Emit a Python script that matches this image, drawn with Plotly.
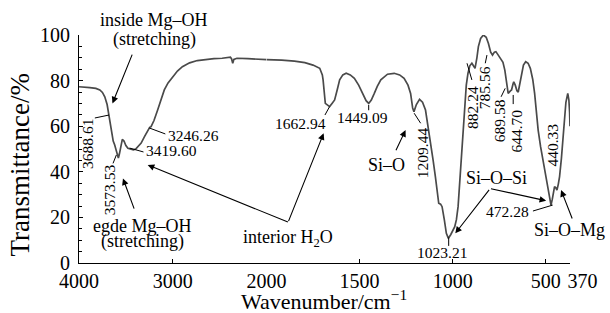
import plotly.graph_objects as go

# ---------------- data ----------------
wavenumber = [4000, 3950, 3884, 3820, 3778, 3750, 3725, 3700, 3690, 3672, 3654, 3635, 3619, 3595,
              3580, 3568, 3555, 3538, 3520, 3500, 3478, 3450, 3420, 3395, 3365, 3337, 3300, 3267,
              3246, 3231, 3200, 3161, 3120, 3090, 3050, 3002, 2950, 2897, 2820, 2738, 2650, 2560,
              2473, 2420, 2385, 2372, 2360, 2348, 2315, 2200, 2121, 2000, 1918, 1850, 1794, 1750,
              1714, 1700, 1696, 1684, 1670, 1661, 1648, 1634, 1620, 1607, 1590, 1572, 1550, 1528,
              1505, 1483, 1465, 1451, 1437, 1421, 1405, 1386, 1350, 1314, 1285, 1261, 1240, 1226,
              1215, 1208, 1195, 1178, 1162, 1146, 1132, 1119, 1105, 1093, 1082, 1075, 1065, 1057,
              1045, 1034, 1023, 1010, 989, 980, 971, 962, 954, 945, 936, 927, 918, 908, 897, 888,
              880, 870, 862, 850, 835, 820, 808, 796, 786, 776, 768, 758, 750, 740, 730, 720, 710,
              702, 690, 684, 676, 672, 664, 655, 648, 641, 631, 620, 608, 595, 583, 570, 560, 550,
              541, 528, 515, 500, 489, 478, 472, 465, 458, 453, 446, 440, 433, 426, 416, 408, 400,
              392, 382, 376, 372, 370]
transmittance = [77.3, 77.2, 76.9, 76.6, 75.9, 74.8, 72.9, 69.5, 67.1, 62.7, 57.0, 53.5, 51.8, 48.5,
                 46.0, 48.0, 51.5, 54.2, 53.5, 51.5, 50.3, 50.0, 49.6, 50.0, 51.2, 52.6, 55.5, 58.3,
                 59.5, 59.8, 62.5, 67.1, 72.0, 75.9, 79.0, 81.7, 84.2, 86.1, 87.8, 88.8, 89.3, 89.6,
                 89.8, 90.0, 90.3, 89.5, 87.6, 89.3, 89.8, 89.6, 89.5, 89.2, 89.0, 88.5, 87.9, 86.8,
                 85.4, 82.5, 80.3, 70.0, 68.9, 68.6, 70.0, 71.5, 76.0, 80.3, 82.5, 83.2, 82.5, 81.0,
                 78.0, 74.4, 71.2, 70.0, 71.5, 74.4, 77.5, 80.3, 82.8, 83.2, 82.5, 81.0, 78.0, 74.4,
                 68.0, 66.4, 69.5, 71.8, 70.5, 67.1, 60.0, 52.5, 45.0, 37.9, 30.0, 26.2, 25.8, 24.7,
                 19.0, 13.0, 10.8, 12.5, 15.9, 19.0, 24.7, 36.0, 48.1, 60.0, 70.0, 78.0, 83.2, 86.5,
                 87.6, 86.7, 85.4, 90.0, 94.9, 98.5, 100.0, 99.0, 96.3, 92.5, 91.2, 92.5, 92.7, 91.5,
                 90.5, 89.8, 88.0, 84.6, 78.5, 74.4, 75.5, 75.9, 78.5, 79.5, 78.0, 75.5, 75.0, 78.0,
                 83.2, 86.8, 88.3, 87.6, 85.4, 80.5, 74.4, 65.0, 58.3, 51.0, 45.2, 39.0, 33.5, 28.0,
                 25.4, 28.0, 31.5, 33.5, 33.0, 32.0, 34.5, 37.9, 46.0, 55.4, 64.0, 70.5, 74.4, 71.5,
                 66.0, 60.0]

x_ticks_left = [4000, 3000, 2000]
x_ticks_right = [1500, 1000, 500, 370]
y_ticks = [0, 20, 40, 60, 80, 100]

peak_labels = ["3688.61", "3573.53", "3419.60", "3246.26", "1662.94", "1449.09", "1209.44",
               "1023.21", "882.24", "785.56", "689.58", "644.70", "472.28", "440.33"]
band_labels = ["inside Mg–OH", "(stretching)", "egde Mg–OH", "(stretching)",
               "interior H<sub>2</sub>O", "Si–O", "Si–O–Si", "Si–O–Mg"]

BREAK = 2000
FONT = '"Liberation Serif", "Times New Roman", Times, serif'

# plot area in pixels (for converting free-floating text positions to paper units)
PLOT_L, PLOT_R, PLOT_T, PLOT_B = 79, 574, 35, 263


def xr(w):
    return "x" if w >= BREAK else "x2"


def paper(px, py):
    return (px - PLOT_L) / (PLOT_R - PLOT_L), (PLOT_B - py) / (PLOT_B - PLOT_T)


left = [(w, t) for w, t in zip(wavenumber, transmittance) if w >= BREAK]
right = [(w, t) for w, t in zip(wavenumber, transmittance) if w <= BREAK]

line_style = dict(color="#4a4a4a", width=1.7)
fig = go.Figure()
fig.add_trace(go.Scatter(x=[p[0] for p in left], y=[p[1] for p in left], mode="lines",
                         line=line_style, xaxis="x", yaxis="y", showlegend=False))
fig.add_trace(go.Scatter(x=[p[0] for p in right], y=[p[1] for p in right], mode="lines",
                         line=line_style, xaxis="x2", yaxis="y", showlegend=False))

annotations = []
shapes = []

# peak labels: (x, y, rotated)
peak_pos = [
    (3905, 52.2, True), (3679, 32.0, True), (3302, 49.3, False), (3069, 56.1, False),
    (1819, 61.0, False), (1483, 64.0, False), (1164, 48.2, True), (1057, 4.4, False),
    (897, 68.4, True), (825, 76.8, True), (745, 62.3, True), (657, 57.9, True),
    (705, 22.5, False), (463, 51.8, True),
]
for lab, (w, t, rot) in zip(peak_labels, peak_pos):
    a = dict(x=w, y=t, xref=xr(w), yref="y", text=lab, showarrow=False,
             xanchor="center", yanchor="middle",
             font=dict(family=FONT, size=15.5, color="black"))
    if rot:
        a["textangle"] = -90
    if lab in ("3419.60", "3246.26"):
        a["xanchor"] = "left"
    annotations.append(a)

# leader lines
leaders = [
    (3831, 63.6, 3679, 64.9), (3637, 43.7, 3601, 47.4), (3460, 50.4, 3312, 48.7),
    (3249, 59.2, 3079, 56.6), (1686, 64.9, 1661, 68.6), (1451, 69.3, 1451, 67.0),
    (1172, 61.3, 1207, 65.7), (1021.5, 11.2, 1021.5, 7.5), (897, 80.3, 923, 87.6),
    (825, 87.6, 816, 91.2), (740, 72.9, 718, 76.6), (675, 69.7, 675, 73.7),
    (569, 22.8, 463, 25.4),
]
for x0, y0, x1, y1 in leaders:
    shapes.append(dict(type="line", xref=xr(x0), yref="y", x0=x0, y0=y0, x1=x1, y1=y1,
                       line=dict(color="black", width=1)))

# band description texts (pixel positions of their centres)
band_px = [(155, 20), (155, 39), (143, 226), (143, 241), (290, 238), (389, 165), (500, 178),
           (573, 230)]
for lab, (px, py) in zip(band_labels, band_px):
    xp, yp = paper(px, py)
    annotations.append(dict(x=xp, y=yp, xref="paper", yref="paper", text=lab, showarrow=False,
                            xanchor="center", yanchor="middle",
                            font=dict(family=FONT, size=18, color="black")))

# arrows: tip (x, y) and tail offset in pixels
arrows = [(3643, 70.0, 20.3, -50.3), (3531, 37.1, 11.7, 31.7),
          (1693, 56.9, -35.7, 89.4), (3267, 43.0, 141.7, 57.7),
          (1253, 58.3, -10.3, 21.7), (986, 13.0, 35, -45), (498, 27.3, -56.7, -12.4),
          (418, 32.0, 11.7, 30)]
for w, t, ax, ay in arrows:
    annotations.append(dict(x=w, y=t, xref=xr(w), yref="y", ax=ax, ay=ay, text="",
                            showarrow=True, arrowhead=2, arrowsize=1.2, arrowwidth=1.1,
                            arrowcolor="black"))

# axis titles
xp, yp = paper(326, 300)
annotations.append(dict(x=xp, y=yp, xref="paper", yref="paper", xanchor="center",
                        yanchor="middle", text="Wavenumber/cm<sup>−1</sup>", showarrow=False,
                        font=dict(family=FONT, size=22, color="black")))
xp, yp = paper(20, 165)
annotations.append(dict(x=xp, y=yp, xref="paper", yref="paper", textangle=-90,
                        xanchor="center", yanchor="middle",
                        text="Transmittance/%", showarrow=False,
                        font=dict(family=FONT, size=27, color="black")))

axis_common = dict(showline=True, linecolor="black", linewidth=1, ticks="inside",
                   ticklen=4, tickcolor="black", showgrid=False, zeroline=False,
                   tickangle=0,
                   tickfont=dict(family=FONT, size=20, color="black"))
split = (BREAK - 2000 + 189) / 495

fig.update_layout(
    width=610, height=313,
    margin=dict(l=PLOT_L, r=610 - PLOT_R, t=PLOT_T, b=313 - PLOT_B),
    paper_bgcolor="white", plot_bgcolor="white",
    font=dict(family=FONT),
    xaxis=dict(domain=[0, split], range=[4000, BREAK], tickvals=x_ticks_left,
               ticktext=[str(v) for v in x_ticks_left], anchor="y", **axis_common),
    xaxis2=dict(domain=[split, 1], range=[BREAK, 370], tickvals=x_ticks_right,
                ticktext=[str(v) for v in x_ticks_right[:-1]] + ["\u00a0" * 5 + str(x_ticks_right[-1])],
                anchor="y", **axis_common),
    yaxis=dict(range=[0, 100], tickvals=y_ticks, anchor="x", ticklabelstandoff=4,
               minor=dict(dtick=5, tick0=0, ticks="inside", ticklen=3, tickcolor="black"),
               **axis_common),
    annotations=annotations,
    shapes=shapes,
)

fig.write_html("out.html", config={"displayModeBar": False},
               post_script="document.body.style.margin='0';document.body.style.overflow='hidden';")
